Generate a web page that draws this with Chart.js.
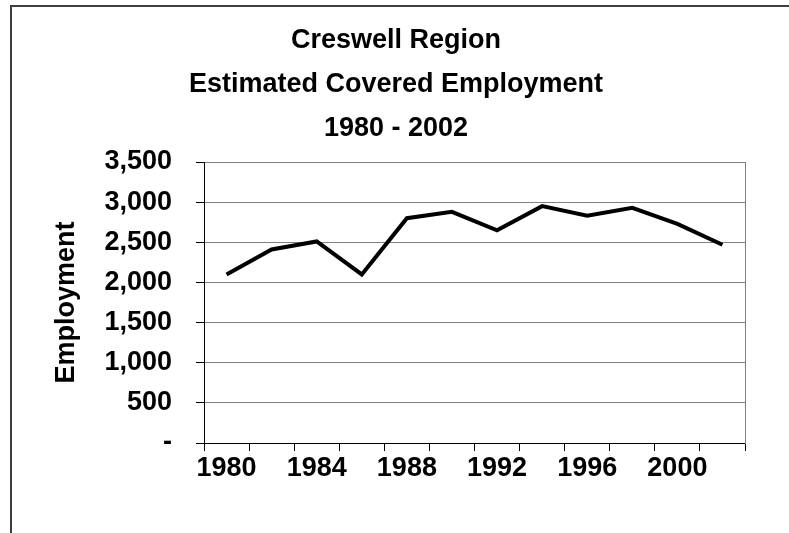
<!DOCTYPE html>
<html>
<head>
<meta charset="utf-8">
<script src="https://cdn.jsdelivr.net/npm/chart.js@4/dist/chart.umd.min.js"></script>
<style>
  html, body { margin: 0; padding: 0; background: #fff; }
  #wrap { position: relative; width: 789px; height: 533px; }
  #frame {
    position: absolute; left: 10px; top: 5px; right: 0; bottom: 0;
    border-left: 2px solid #404040; border-top: 2px solid #404040;
  }
  #chart { position: absolute; left: 0; top: 0; }
</style>
</head>
<body>
<div id="wrap">
  <div id="frame"></div>
  <canvas id="chart" width="789" height="533"></canvas>
</div>
<script>
// Data
const years = ['1980', '1982', '1984', '1986', '1988', '1990', '1992', '1994', '1996', '1998', '2000', '2002'];
const employment = [2100, 2410, 2510, 2100, 2800, 2880, 2650, 2950, 2830, 2930, 2730, 2470];
const yTicks = [0, 500, 1000, 1500, 2000, 2500, 3000, 3500];
const titleLines = ['Creswell Region', 'Estimated Covered Employment', '1980 - 2002'];

const fontFamily = '"Liberation Sans", Arial, sans-serif';
const font = { family: fontFamily, size: 27, weight: 'bold' };

const ctx = document.getElementById('chart').getContext('2d');
const chart = new Chart(ctx, {
    type: 'line',
    data: {
        labels: years,
        datasets: [{
            label: 'Employment',
            data: employment,
            borderColor: '#000',
            borderWidth: 4,
            pointRadius: 0,
            tension: 0,
            fill: false
        }]
    },
    options: {
        responsive: false,
        animation: false,
        layout: { padding: { left: 12, top: 0, right: 9, bottom: 0 } },
        plugins: {
            legend: { display: false },
            tooltip: { enabled: false },
            title: {
                display: true,
                text: titleLines,
                color: '#000',
                font: { family: fontFamily, size: 27, weight: 'bold', lineHeight: '44px' },
                padding: { top: 19, bottom: 11 }
            }
        },
        scales: {
            x: {
                type: 'category',
                offset: true,
                grid: {
                    offset: true,
                    drawOnChartArea: false,
                    drawTicks: true,
                    tickLength: 8,
                    tickColor: '#000'
                },
                border: { color: '#000', width: 1 },
                ticks: {
                    autoSkip: false,
                    maxRotation: 0,
                    color: '#000',
                    font: font,
                    padding: 1,
                    callback: function (value, index) {
                        return index % 2 === 0 ? this.getLabelForValue(value) : '';
                    }
                },
                afterFit: (scale) => { scale.height = 90; }
            },
            y: {
                min: 0,
                max: 3500,
                afterBuildTicks: (scale) => {
                    scale.ticks = yTicks.map(v => ({ value: v }));
                },
                grid: {
                    color: '#808080',
                    lineWidth: 1,
                    drawTicks: true,
                    tickLength: 8,
                    tickColor: '#000'
                },
                border: { color: '#000', width: 1 },
                ticks: {
                    color: '#000',
                    font: font,
                    padding: 24,
                    callback: (v) => v === 0 ? '-' : v.toLocaleString('en-US')
                },
                title: {
                    display: true,
                    text: 'Employment',
                    color: '#000',
                    font: font,
                    padding: { top: 38, bottom: 0 }
                },
                afterFit: (scale) => { scale.width = 192; }
            },
            y2: {
                position: 'right',
                min: 0,
                max: 3500,
                grid: { drawOnChartArea: false, drawTicks: false },
                border: { color: '#808080', width: 1 },
                ticks: { display: false },
                afterFit: (scale) => { scale.width = 35; }
            }
        }
    }
});
</script>
</body>
</html>
